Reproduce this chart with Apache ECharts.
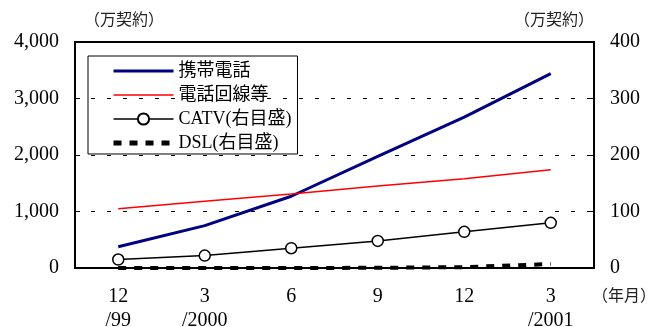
<!DOCTYPE html>
<html>
<head>
<meta charset="utf-8">
<script src="https://cdn.jsdelivr.net/npm/echarts@6/dist/echarts.min.js"></script>
<style>
  html, body { margin: 0; padding: 0; background: #fff; }
  #chart { width: 653px; height: 327px; }
</style>
</head>
<body>
<div id="chart"></div>
<script>
// Quarterly subscriber counts (unit: 10,000 contracts)
const categories = ['12\n/99', '3\n/2000', '6', '9', '12', '3\n/2001'];
const mobile = [375, 750, 1270, 1975, 2670, 3440];       // 携帯電話 (left axis)
const dialup = [1050, 1180, 1310, 1450, 1580, 1740];     // 電話回線等 (left axis)
const catv = [15, 22, 35, 48, 64, 80];                   // CATV (right axis)
const dsl = [0.02, 0.05, 0.1, 0.3, 1.5, 7];              // DSL (right axis)
const leftTicks = { min: 0, max: 4000, interval: 1000 };
const rightTicks = { min: 0, max: 400, interval: 100 };

const SERIF = '"Liberation Serif", "Noto Sans CJK JP", serif';
const chart = echarts.init(document.getElementById('chart'), null, { renderer: 'canvas' });

// legend entries for plain lines: hide the marker, keep the line sample
const noMarker = { itemStyle: { opacity: 0 } };

chart.setOption({
  animation: false,
  backgroundColor: '#fff',
  textStyle: { fontFamily: SERIF, color: '#000' },
  grid: {
    left: 75, right: 59, top: 42, bottom: 59,
    outerBoundsMode: 'none',
    show: true, borderColor: '#000', borderWidth: 2, backgroundColor: 'transparent'
  },
  legend: {
    orient: 'vertical',
    left: 88, top: 56,
    borderColor: '#000', borderWidth: 1,
    padding: [6, 6, 2, 23],
    itemWidth: 60, itemHeight: 14, itemGap: 6,
    textStyle: { fontFamily: SERIF, fontSize: 18, color: '#000' },
    data: [
      { name: '携帯電話', ...noMarker, lineStyle: { color: '#000080', width: 3 } },
      { name: '電話回線等', ...noMarker, lineStyle: { color: '#ff0000', width: 1.5 } },
      { name: 'CATV(右目盛)', lineStyle: { color: '#000', width: 1.5 } },
      { name: 'DSL(右目盛)', ...noMarker, lineStyle: { color: '#000', width: 5, type: [8, 8] } }
    ]
  },
  xAxis: {
    type: 'category',
    data: categories,
    boundaryGap: true,
    axisLine: { lineStyle: { color: '#000', width: 2 } },
    axisTick: { inside: true, length: 5, lineStyle: { color: '#000', width: 1 } },
    axisLabel: { color: '#000', fontFamily: SERIF, fontSize: 20, lineHeight: 24, margin: 17 }
  },
  yAxis: [
    {
      type: 'value', ...leftTicks, position: 'left',
      axisLine: { show: true, lineStyle: { color: '#000', width: 2 } },
      axisTick: { show: true, inside: true, length: 5, lineStyle: { color: '#000' } },
      axisLabel: { color: '#000', fontFamily: SERIF, fontSize: 20, margin: 16 },
      splitLine: { show: true, lineStyle: { color: '#000', width: 1, type: [4, 12] } }
    },
    {
      type: 'value', ...rightTicks, position: 'right',
      axisLine: { show: true, lineStyle: { color: '#000', width: 2 } },
      axisTick: { show: true, inside: true, length: 5, lineStyle: { color: '#000' } },
      axisLabel: { color: '#000', fontFamily: SERIF, fontSize: 20, margin: 16 },
      splitLine: { show: false }
    }
  ],
  graphic: [
    { type: 'text', left: 84, top: 11, style: { text: '（万契約）', font: '16px "Noto Sans CJK JP"', fill: '#222' } },
    { type: 'text', left: 514, top: 11, style: { text: '（万契約）', font: '16px "Noto Sans CJK JP"', fill: '#222' } },
    { type: 'text', left: 592, top: 287, style: { text: '（年月）', font: '16px "Noto Sans CJK JP"', fill: '#222' } }
  ],
  series: [
    {
      name: '携帯電話', type: 'line', yAxisIndex: 0, data: mobile,
      symbol: 'none', lineStyle: { color: '#000080', width: 3 }, itemStyle: { color: '#000080' }
    },
    {
      name: '電話回線等', type: 'line', yAxisIndex: 0, data: dialup,
      symbol: 'none', lineStyle: { color: '#ff0000', width: 1.5 }, itemStyle: { color: '#ff0000' }
    },
    {
      name: 'CATV(右目盛)', type: 'line', yAxisIndex: 1, data: catv,
      symbol: 'circle', symbolSize: 11,
      lineStyle: { color: '#000', width: 1.5 },
      itemStyle: { color: '#fff', borderColor: '#000', borderWidth: 1.5 }
    },
    {
      name: 'DSL(右目盛)', type: 'line', yAxisIndex: 1, data: dsl,
      symbol: 'none', lineStyle: { color: '#000', width: 4, type: [8, 8] }, itemStyle: { color: '#000' }
    }
  ]
});
</script>
</body>
</html>
